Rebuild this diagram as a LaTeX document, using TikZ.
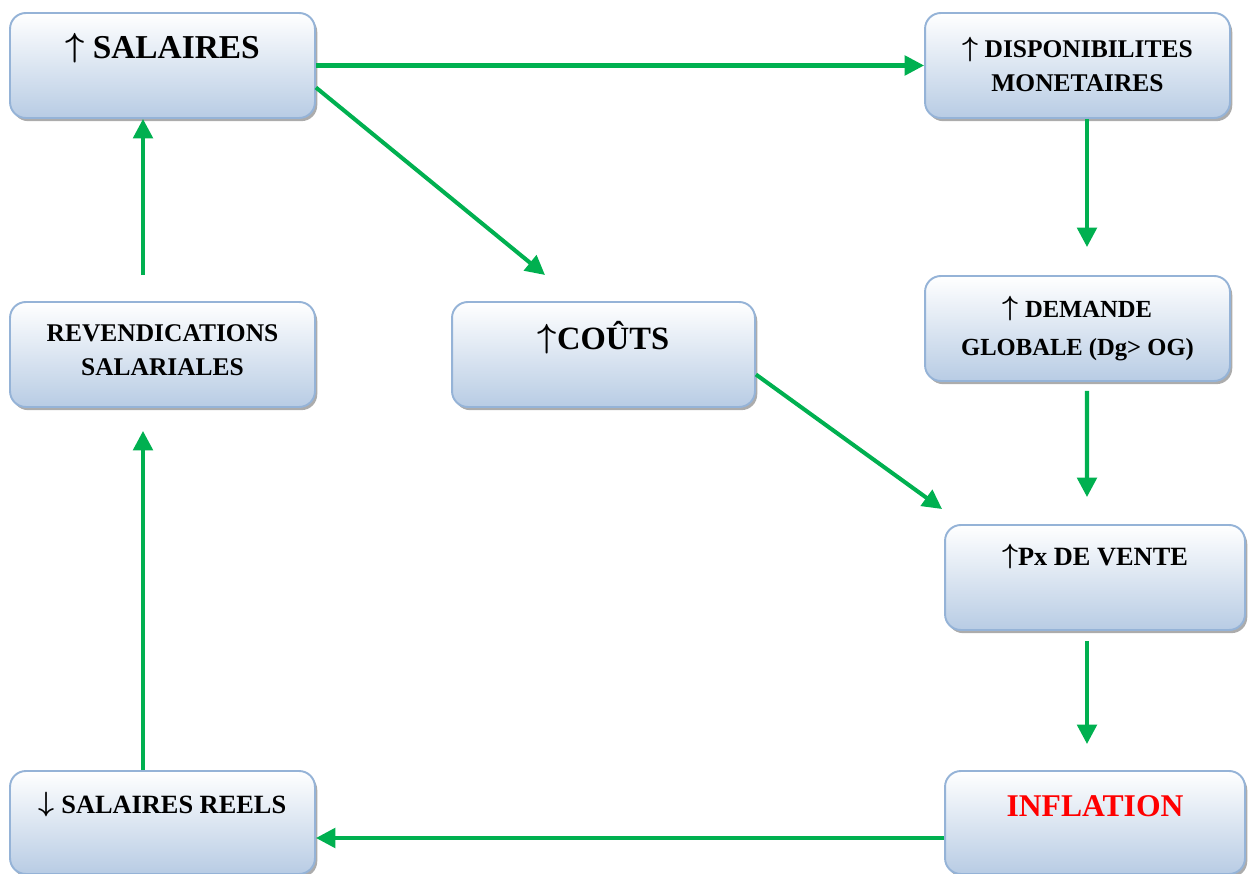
\documentclass[tikz,border=0pt]{standalone}
\usepackage{fontspec}
\setmainfont{Liberation Serif}
\usetikzlibrary{arrows.meta,shadows,calc}
\definecolor{grn}{RGB}{0,176,80}
\definecolor{boxline}{RGB}{149,179,215}
\definecolor{boxbot}{RGB}{184,204,228}
\definecolor{infred}{RGB}{255,0,0}
\newcommand{\upar}{\raisebox{0.06em}{\scalebox{1.1}{\boldmath$\uparrow$}}}
\newcommand{\dnar}{\raisebox{0.06em}{\scalebox{1.1}{\boldmath$\downarrow$}}}
\tikzset{
  box/.style={draw=boxline, line width=1.1pt, rounded corners=9pt,
    top color=white, bottom color=boxbot,
    minimum width=6.1cm, minimum height=2.1cm, inner sep=0pt,
    drop shadow={shadow xshift=1.3pt, shadow yshift=-1.8pt, fill=black!65}},
  lbl/.style={font=\bfseries, align=center, inner sep=0pt},
  conn/.style={draw=grn, line width=2.3pt, -{Triangle[length=11pt,width=11pt]}}
}
\begin{document}
\begin{tikzpicture}[x=0.02cm, y=-0.02cm]
\useasboundingbox (0,0) rectangle (1248,874);
% boxes
\node[box] (sal) at (162.5,65.5) {};
\node[box] (dis) at (1077.5,65.5) {};
\node[box] (rev) at (162.5,354.5) {};
\node[box, minimum width=6.06cm] (cou) at (603.5,354.5) {};
\node[box] (dem) at (1077.5,328.5) {};
\node[box, minimum width=6.0cm] (px) at (1095,577.5) {};
\node[box, minimum width=6.0cm, minimum height=2.06cm] (inf) at (1095,822.5) {};
\node[box, minimum height=2.06cm] (sr) at (162.5,822.5) {};
% texts
\node[lbl, font=\bfseries\fontsize{19}{22}\selectfont] (tsal) at (162.5,48) {\upar{} SALAIRES};
\node[lbl, font=\bfseries\fontsize{14.5}{19.5}\selectfont] (tdis) at (1077.5,64.5) {\upar{} DISPONIBILITES\\MONETAIRES};
\node[lbl, font=\bfseries\fontsize{14.5}{19.5}\selectfont] (trev) at (162.5,350.5) {REVENDICATIONS\\SALARIALES};
\node[lbl, font=\bfseries\fontsize{18.5}{22}\selectfont] (tcou) at (603.5,338) {\upar COÛTS};
\node[lbl, font=\bfseries\fontsize{14}{21.5}\selectfont] (tdem) at (1077.5,328.5) {\upar{} DEMANDE\\GLOBALE (Dg> OG)};
\node[lbl, font=\bfseries\fontsize{15}{18}\selectfont] (tpx) at (1095,557) {\upar Px DE VENTE};
\node[lbl, font=\bfseries\fontsize{18}{22}\selectfont, text=infred] (tinf) at (1095,806) {INFLATION};
\node[lbl, font=\bfseries\fontsize{15}{18}\selectfont] (tsr) at (162.5,805) {\dnar{} SALAIRES REELS};
% free ends
\coordinate (c1) at (545,275);
% connectors
\draw[conn] (sal.east) -- (dis.west);
\draw[conn] ($(sal.east)+(0,22)$) -- (c1);
\draw[conn] ($(dis.south)+(9.5,0)$) -- ($(dem.north)+(9.5,-28)$);
\draw[conn] ($(dem.south)+(9.5,9)$) -- ($(px.north)+(-8,-27)$);
\draw[conn] ($(px.south)+(-8,10)$) -- ($(inf.north)+(-8,-26)$);
\draw[conn] ($(inf.west)+(0,15.5)$) -- ($(sr.east)+(0,15.5)$);
\draw[conn] ($(sr.north)+(-19.5,0)$) -- ($(rev.south)+(-19.5,23)$);
\draw[conn] ($(rev.north)+(-19.5,-26)$) -- ($(sal.south)+(-19.5,0)$);
\draw[conn] ($(cou.east)+(0,20)$) -- ($(px.north west)+(-2,-15)$);
\end{tikzpicture}
\end{document}
